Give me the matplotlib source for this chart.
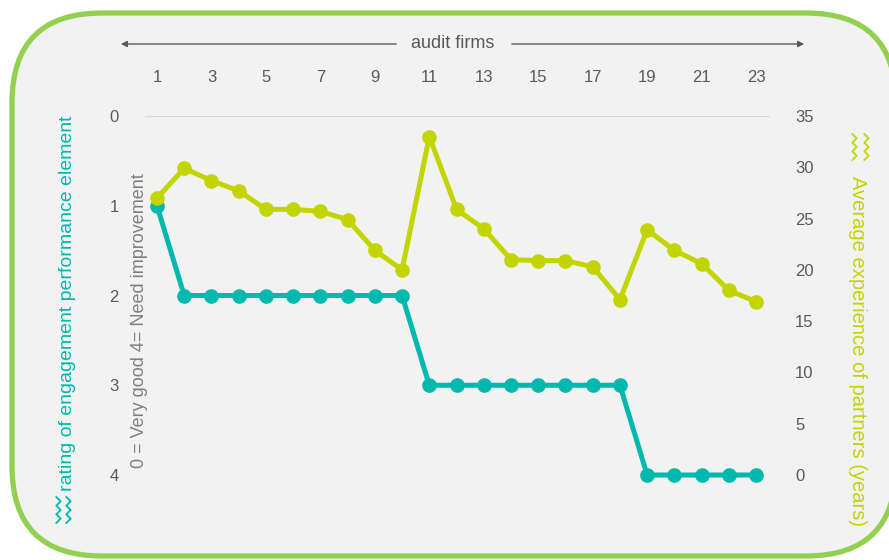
import numpy as np
import matplotlib
matplotlib.use("Agg")
import matplotlib.pyplot as plt
from matplotlib.patches import FancyBboxPatch

plt.rcParams['font.family'] = ['Liberation Sans', 'DejaVu Sans']

# data
firms = list(range(1, 24))
rating = [1, 2, 2, 2, 2, 2, 2, 2, 2, 2,
          3, 3, 3, 3, 3, 3, 3, 3,
          4, 4, 4, 4, 4]
experience = [27.0, 29.9, 28.7, 27.7, 25.9, 25.9, 25.7, 24.9, 21.9, 20.0,
              33.0, 25.9, 24.0, 21.0, 20.9, 20.9, 20.3, 17.1,
              23.9, 21.9, 20.6, 18.0, 16.9]
xticks = list(range(1, 24, 2))

TEAL = '#00B9AE'
LIME = '#C3D500'
GREY = '#595959'
W, H = 889, 560

fig = plt.figure(figsize=(W / 100, H / 100), dpi=100)

# background panel in pixel coordinates
bg = fig.add_axes([0, 0, 1, 1], zorder=0)
bg.set_xlim(0, W)
bg.set_ylim(0, H)
bg.axis('off')
panel = FancyBboxPatch((12, H - 556), 884, 543,
                       boxstyle="round,pad=0,rounding_size=90",
                       facecolor='#F2F2F2', edgecolor='#92D050', linewidth=3.8)
bg.add_patch(panel)


def zigzag(x0, y_top, y_bot, color):
    ys = np.linspace(y_top, y_bot, 7)
    xs = [x0 + (2.2 if i % 2 else -2.2) for i in range(7)]
    bg.plot(xs, H - ys, color=color, lw=1.3)


# little series icons
zigzag(58.5, 497, 523, TEAL)
zigzag(68.5, 497, 523, TEAL)
zigzag(854.5, 134, 160, LIME)
zigzag(866.5, 134, 160, LIME)

# "audit firms" arrows
bg.annotate('', xy=(118, H - 44), xytext=(399, H - 44),
            arrowprops=dict(arrowstyle='-|>', color=GREY, lw=1, mutation_scale=9))
bg.annotate('', xy=(807, H - 44), xytext=(509, H - 44),
            arrowprops=dict(arrowstyle='-|>', color=GREY, lw=1, mutation_scale=9))
bg.text(453, H - 43, 'audit firms', ha='center', va='center', fontsize=13, color=GREY)

# axis labels
bg.text(68, H - 303, 'rating of engagement performance element', rotation=90,
        ha='center', va='center', fontsize=14, color=TEAL)
bg.text(140, H - 321, '0 = Very good 4= Need improvement', rotation=90,
        ha='center', va='center', fontsize=13, color='#7F7F7F')
bg.text(857, H - 351, 'Average experience of partners (years)', rotation=270,
        ha='center', va='center', fontsize=14.5, color=LIME)

# main axes
ax = fig.add_axes([145 / W, 1 - 475 / H, (770 - 145) / W, (475 - 116) / H], zorder=1)
ax.patch.set_visible(False)
ax.set_xlim(0.56, 23.51)
ax.set_ylim(4, 0)
ax.axhline(0, color='#D9D9D9', lw=1.5, zorder=1)
ax.plot(firms, rating, color=TEAL, lw=3.6, marker='o', markersize=9.5,
        zorder=3, clip_on=False)

ax.xaxis.tick_top()
ax.set_xticks(xticks)
ax.set_yticks([0, 1, 2, 3, 4])
ax.tick_params(axis='x', length=0, pad=22, labelsize=12, labelcolor=GREY)
ax.tick_params(axis='y', length=0, pad=19, labelsize=12, labelcolor=GREY)
for s in ax.spines.values():
    s.set_visible(False)

ax2 = ax.twinx()
ax2.set_ylim(0, 35)
ax2.set_yticks(range(0, 36, 5))
ax2.plot(firms, experience, color=LIME, lw=3.6, marker='o', markersize=9.5,
         zorder=3, clip_on=False)
ax2.tick_params(axis='y', length=0, pad=18, labelsize=12, labelcolor=GREY)
for s in ax2.spines.values():
    s.set_visible(False)

fig.savefig('out.png', dpi=100)
